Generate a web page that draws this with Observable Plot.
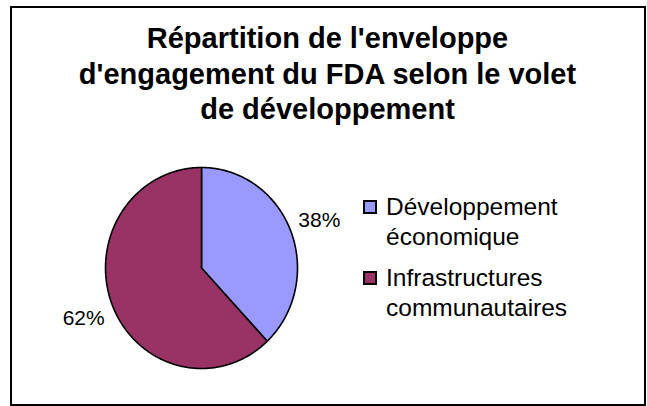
<!DOCTYPE html>
<html>
<head>
<meta charset="utf-8">
<script src="https://cdn.jsdelivr.net/npm/d3@7"></script>
<script src="https://cdn.jsdelivr.net/npm/@observablehq/plot@0.6"></script>
<style>
  html, body { margin: 0; padding: 0; background: #fff; }
  #chart { position: relative; width: 647px; height: 406px; overflow: hidden;
           font-family: "Liberation Sans", Arial, sans-serif; color: #000; }
  #frame { position: absolute; left: 10px; top: 6px; width: 632px; height: 396px;
           border: 2px solid #000; box-sizing: content-box; }
  #title { position: absolute; left: 11px; width: 633px; top: 21px; text-align: center;
           font-weight: bold; font-size: 29px; line-height: 35.5px; white-space: nowrap; }
  #plot { position: absolute; left: 0; top: 0; }
  .entry { position: absolute; left: 363px; font-size: 24.5px; line-height: 29.5px; }
  .entry .sw { position: absolute; left: 0; width: 10px; height: 10px; border: 2px solid #000; top: 8px; }
  .entry .tx { position: absolute; left: 23px; white-space: nowrap; }
</style>
</head>
<body>
<div id="chart">
  <div id="frame"></div>
  <div id="title"></div>
  <div id="plot"></div>
  <div id="legend"></div>
</div>
<script>
// ---- data ----
const titleLines = ["Répartition de l'enveloppe", "d'engagement du FDA selon le volet", "de développement"];
const categories = ["Développement économique", "Infrastructures communautaires"];
const legendLines = [["Développement", "économique"], ["Infrastructures", "communautaires"]];
const values = [38, 62];
const valueLabels = ["38%", "62%"];
const colors = ["#9999FF", "#993366"];

// ---- title ----
document.getElementById("title").innerHTML = titleLines.join("<br>");

// ---- pie geometry from data ----
const arcs = d3.pie().sort(null).value(d => d)(values);
const slicePts = [];
arcs.forEach((a, i) => {
  const n = Math.max(2, Math.ceil((a.endAngle - a.startAngle) / 0.01));
  slicePts.push({x: 0, y: 0, cat: categories[i]});
  for (let k = 0; k <= n; k++) {
    const t = a.startAngle + (a.endAngle - a.startAngle) * k / n;
    slicePts.push({x: Math.sin(t), y: Math.cos(t), cat: categories[i]});
  }
  slicePts.push({x: 0, y: 0, cat: categories[i]});
});
const labelR = 1.32;
const labelData = arcs.map((a, i) => {
  const m = (a.startAngle + a.endAngle) / 2;
  return {x: labelR * Math.sin(m), y: labelR * Math.cos(m), text: valueLabels[i]};
});

const plot = Plot.plot({
  width: 647,
  height: 406,
  marginLeft: 105,
  marginRight: 350,
  marginTop: 167,
  marginBottom: 38,
  x: {domain: [-1, 1], axis: null},
  y: {domain: [-1, 1], axis: null},
  color: {domain: categories, range: colors},
  style: {background: "transparent", overflow: "visible", fontFamily: "Liberation Sans, Arial, sans-serif"},
  marks: [
    Plot.line(slicePts, {x: "x", y: "y", z: "cat", fill: "cat", stroke: "#000", strokeWidth: 1.6, curve: "linear", strokeLinejoin: "round"}),
    Plot.text(labelData, {x: "x", y: "y", text: "text", fontSize: 21, fill: "#000", textAnchor: "middle", dy: 1})
  ]
});
document.getElementById("plot").appendChild(plot);

// ---- legend ----
const cScale = Plot.scale({color: plot.scale("color")});
const entryTops = [192, 263];
const legend = d3.select("#legend");
categories.forEach((c, i) => {
  const e = legend.append("div").attr("class", "entry").style("top", entryTops[i] + "px");
  e.append("div").attr("class", "sw").style("background", cScale.apply(c));
  e.append("div").attr("class", "tx").html(legendLines[i].join("<br>"));
});
</script>
</body>
</html>
